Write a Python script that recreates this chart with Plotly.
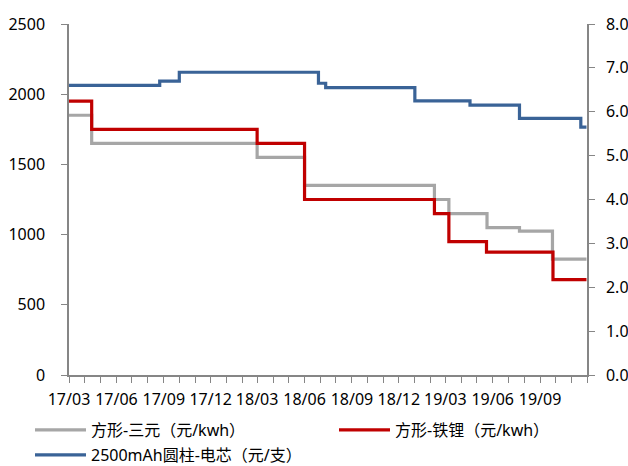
import plotly.graph_objects as go

# ---- data ----
ternary_dates = ["2017-03-01", "2017-04-14", "2018-03-01", "2018-06-01", "2019-02-08",
                 "2019-03-08", "2019-05-21", "2019-07-23", "2019-09-25", "2019-11-30"]
ternary_vals = [1850, 1650, 1550, 1350, 1250, 1150, 1050, 1025, 825, 825]

lfp_dates = ["2017-03-01", "2017-04-14", "2018-03-01", "2018-06-01", "2019-02-08",
             "2019-03-08", "2019-05-20", "2019-09-26", "2019-11-30"]
lfp_vals = [1950, 1750, 1650, 1250, 1150, 950, 875, 680, 680]

cyl_dates = ["2017-03-01", "2017-08-24", "2017-10-01", "2018-06-28", "2018-07-12",
             "2019-01-01", "2019-04-18", "2019-07-23", "2019-11-19", "2019-11-30"]
cyl_vals = [6.6, 6.7, 6.9, 6.65, 6.55, 6.25, 6.15, 5.85, 5.65, 5.65]

tick_dates = ["2017-03-01", "2017-06-01", "2017-09-01", "2017-12-01", "2018-03-01",
              "2018-06-01", "2018-09-01", "2018-12-01", "2019-03-01", "2019-06-01",
              "2019-09-01"]
tick_labels = ["17/03", "17/06", "17/09", "17/12", "18/03", "18/06", "18/09",
               "18/12", "19/03", "19/06", "19/09"]

names = ["方形-三元（元/kwh）", "方形-铁锂（元/kwh）", "2500mAh圆柱-电芯（元/支）"]

FONT = "Noto Sans, Noto Sans CJK SC, sans-serif"
AX = "#868686"

fig = go.Figure()
fig.add_trace(go.Scatter(x=ternary_dates, y=ternary_vals, mode="lines", line_shape="hv",
                         line=dict(color="#A6A6A6", width=3.2), name=names[0], legend="legend"))
fig.add_trace(go.Scatter(x=lfp_dates, y=lfp_vals, mode="lines", line_shape="hv",
                         line=dict(color="#C00000", width=3.2), name=names[1], legend="legend2"))
fig.add_trace(go.Scatter(x=cyl_dates, y=cyl_vals, mode="lines", line_shape="hv", yaxis="y2",
                         line=dict(color="#3A6397", width=3.2), name=names[2], legend="legend3"))

W, H = 628, 466
L, T = 69, 24
R = W - 587.5
B = H - 375

leg_common = dict(orientation="h", xanchor="left", yanchor="middle",
                  xref="container", yref="container",
                  font=dict(family=FONT, size=16, color="#000"),
                  bgcolor="rgba(0,0,0,0)", itemwidth=51, visible=True)

fig.update_layout(
    width=W, height=H,
    margin=dict(l=L, r=R, t=T, b=B, autoexpand=False),
    paper_bgcolor="white", plot_bgcolor="white",
    font=dict(family=FONT, size=16, color="#000"),
    showlegend=True,
    legend=dict(x=30 / W, y=1 - 430 / H, **leg_common),
    legend2=dict(x=334 / W, y=1 - 430 / H, **leg_common),
    legend3=dict(x=30 / W, y=1 - 455 / H, **leg_common),
    xaxis=dict(type="date", range=["2017-03-01", "2019-12-01"],
               tickvals=tick_dates, ticktext=tick_labels,
               ticks="outside", ticklen=6, tickcolor=AX, tickwidth=1,
               minor=dict(dtick="M1", tick0="2017-03-01", ticks="outside", ticklen=6,
                          tickcolor=AX, tickwidth=1, showgrid=False),
               showline=True, linecolor=AX, linewidth=1.5, showgrid=False,
               zeroline=False, ticklabelstandoff=3,
               tickfont=dict(family=FONT, size=16, color="#000")),
    yaxis=dict(range=[0, 2500], dtick=500, tick0=0, ticks="outside", ticklen=6,
               tickcolor=AX, showline=True, linecolor=AX, linewidth=1.5,
               showgrid=False, zeroline=False, ticklabelstandoff=13,
               tickfont=dict(family=FONT, size=16, color="#000")),
    yaxis2=dict(range=[0, 8], dtick=1, tick0=0, tickformat=".1f", overlaying="y",
                side="right", anchor="x", ticks="outside", ticklen=6, tickcolor=AX,
                showline=True, linecolor=AX, linewidth=1.5, showgrid=False,
                zeroline=False, ticklabelstandoff=8,
                tickfont=dict(family=FONT, size=16, color="#000")),
)

# remove the default 8px page margin so the 628x466 figure fills the window exactly
fig.write_html("out.html",
               config={"displayModeBar": False},
               post_script="document.body.style.margin='0';"
                           "document.body.style.overflow='hidden';")
